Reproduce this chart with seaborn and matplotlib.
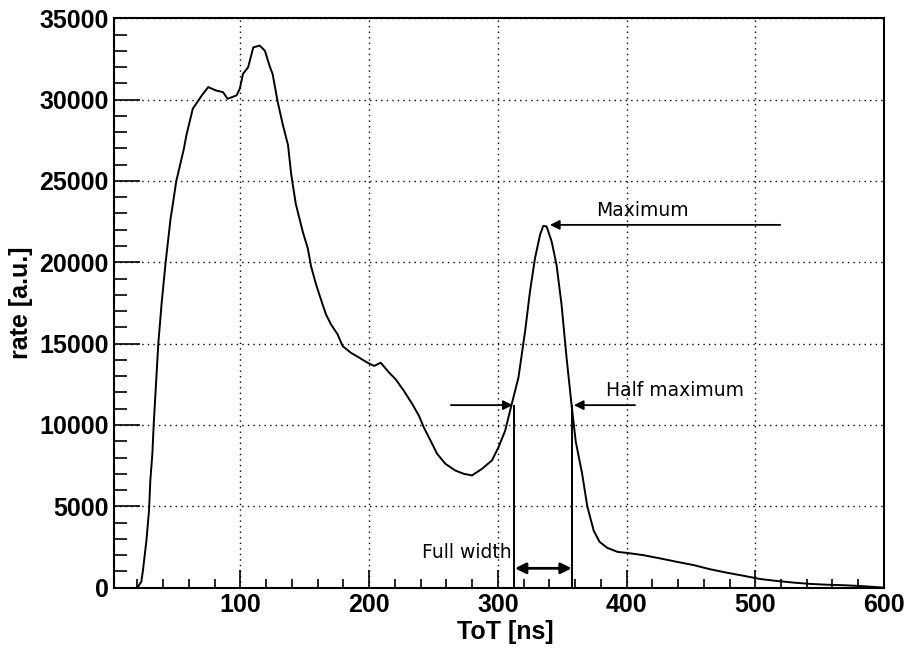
import matplotlib
matplotlib.use("Agg")
import matplotlib.pyplot as plt
import seaborn as sns
import pandas as pd
from matplotlib.ticker import MultipleLocator

# ---- data ----
tot_ns = [20, 23, 24.3, 27, 29, 30, 31.6, 32.6, 36.2, 38.8, 41.9, 45.6, 50.2, 56, 58, 63,
          70, 75, 81, 86.5, 90, 97, 99.5, 102, 106, 110, 115, 119, 123, 125, 129, 133,
          137, 139.5, 143, 148.4, 152.3, 154.9, 158.8, 162.6, 166.5, 170.4, 175.5, 179.4,
          185.8, 192.3, 198.7, 203.9, 209, 215.5, 220.6, 227, 233.5, 238.7, 242.5, 247.7,
          252.8, 259.3, 267, 273.5, 279.9, 287.6, 295.4, 300.5, 305.7, 310.8, 316, 321.2,
          325, 328.9, 332.8, 335.3, 337.9, 341.8, 345.6, 349.5, 353.4, 357.2, 360.5, 365.5,
          369.5, 374.5, 379, 385, 393, 400, 413, 426, 439, 452, 465, 478, 491, 504, 517,
          530, 543, 556, 569, 582, 597, 600]
rate = [0, 370, 1080, 2920, 4760, 6590, 8240, 10000, 15000, 17500, 20000, 22600, 25000,
        26950, 27800, 29440, 30260, 30770, 30560, 30460, 30050, 30260, 30660, 31580, 31990,
        33210, 33320, 33010, 31990, 31580, 29850, 28440, 27200, 25380, 23600, 21890, 20870,
        19750, 18630, 17710, 16790, 16180, 15570, 14850, 14440, 14140, 13830, 13630, 13830,
        13220, 12810, 12100, 11290, 10570, 9850, 9040, 8230, 7610, 7200, 7000, 6900, 7300,
        7820, 8630, 9650, 11290, 12910, 15770, 18220, 20260, 21690, 22240, 22200, 21280,
        19850, 17400, 14140, 11290, 9000, 7000, 5000, 3500, 2820, 2450, 2200, 2140, 2000,
        1800, 1590, 1390, 1130, 920, 730, 530, 410, 310, 230, 180, 150, 100, 20, 0]

x_label = "ToT [ns]"
y_label = "rate [a.u.]"
x_ticks = [100, 200, 300, 400, 500, 600]
y_ticks = [0, 5000, 10000, 15000, 20000, 25000, 30000, 35000]

# annotation values
maximum_level = 22300
half_level = 11220
fwhm_left = 312.5
fwhm_right = 357.6

df = pd.DataFrame({"ToT": tot_ns, "rate": rate})

sns.set_style("white")
plt.rcParams["font.family"] = ["DejaVu Sans"]
plt.rcParams["text.color"] = "black"
plt.rcParams["axes.labelcolor"] = "black"
plt.rcParams["xtick.color"] = "black"
plt.rcParams["ytick.color"] = "black"

fig = plt.figure(figsize=(9.07, 6.48), dpi=100)
ax = fig.add_axes([0.1260, 0.0931, 0.8486, 0.8787])

sns.lineplot(data=df, x="ToT", y="rate", color="black", linewidth=1.4,
             estimator=None, sort=False, ax=ax)

ax.set_xlim(2, 600)
ax.set_ylim(0, 35000)
ax.set_xticks(x_ticks)
ax.set_yticks(y_ticks)
ax.xaxis.set_minor_locator(MultipleLocator(20))
ax.yaxis.set_minor_locator(MultipleLocator(1000))

tick_font = dict(family="Liberation Sans", weight="bold", size=18)
ax.set_xticklabels([str(v) for v in x_ticks], fontdict=tick_font)
ax.set_yticklabels([str(v) for v in y_ticks], fontdict=tick_font)

ax.tick_params(axis="x", which="both", bottom=True, top=False)
ax.tick_params(axis="y", which="both", left=True, right=False)
ax.tick_params(axis="x", which="major", direction="in", length=13, width=1.2, pad=4,
               color="black", labelcolor="black")
ax.tick_params(axis="x", which="minor", direction="in", length=6.5, width=1.2, color="black")
ax.tick_params(axis="y", which="major", direction="in", length=18.5, width=1.2, pad=4,
               color="black", labelcolor="black")
ax.tick_params(axis="y", which="minor", direction="in", length=9, width=1.2, color="black")

ax.grid(True, which="major", color="black", linestyle=(0, (1, 3)), linewidth=1.0)
ax.set_axisbelow(True)
for s in ax.spines.values():
    s.set_color("black")
    s.set_linewidth(1.5)

ax.set_xlabel(x_label, fontfamily="Liberation Sans", fontweight="bold", fontsize=18,
              color="black")
ax.set_ylabel(y_label, fontfamily="Liberation Sans", fontweight="bold", fontsize=18,
              color="black")
ax.xaxis.set_label_coords(0.508, -0.057)
ax.yaxis.set_label_coords(-0.106, 0.5)

# annotations
ann_font = dict(family="DejaVu Sans", size=13.5, color="black")
ax.text(376.3, 23180, "Maximum", ha="left", va="center", **ann_font)
ax.annotate("", xy=(340.5, maximum_level), xytext=(519.4, maximum_level),
            arrowprops=dict(arrowstyle="-|>", color="black", lw=1.3,
                            mutation_scale=14, shrinkA=0, shrinkB=0))
ax.text(383.8, 12140, "Half maximum", ha="left", va="center", **ann_font)
ax.annotate("", xy=(fwhm_right + 1.5, half_level), xytext=(406.6, half_level),
            arrowprops=dict(arrowstyle="-|>", color="black", lw=1.3,
                            mutation_scale=14, shrinkA=0, shrinkB=0))
ax.annotate("", xy=(fwhm_left - 1.0, half_level), xytext=(263.5, half_level),
            arrowprops=dict(arrowstyle="-|>", color="black", lw=1.3,
                            mutation_scale=14, shrinkA=0, shrinkB=0))
ax.vlines([fwhm_left, fwhm_right], 0, half_level, color="black", linewidth=1.4)
ax.annotate("", xy=(fwhm_left + 0.8, 1190), xytext=(fwhm_right - 0.2, 1190),
            arrowprops=dict(arrowstyle="<|-|>", color="black", lw=2.0,
                            mutation_scale=16, shrinkA=0, shrinkB=0))
ax.text(310.7, 2170, "Full width", ha="right", va="center", **ann_font)

fig.savefig("out.png", dpi=100, facecolor="white")
